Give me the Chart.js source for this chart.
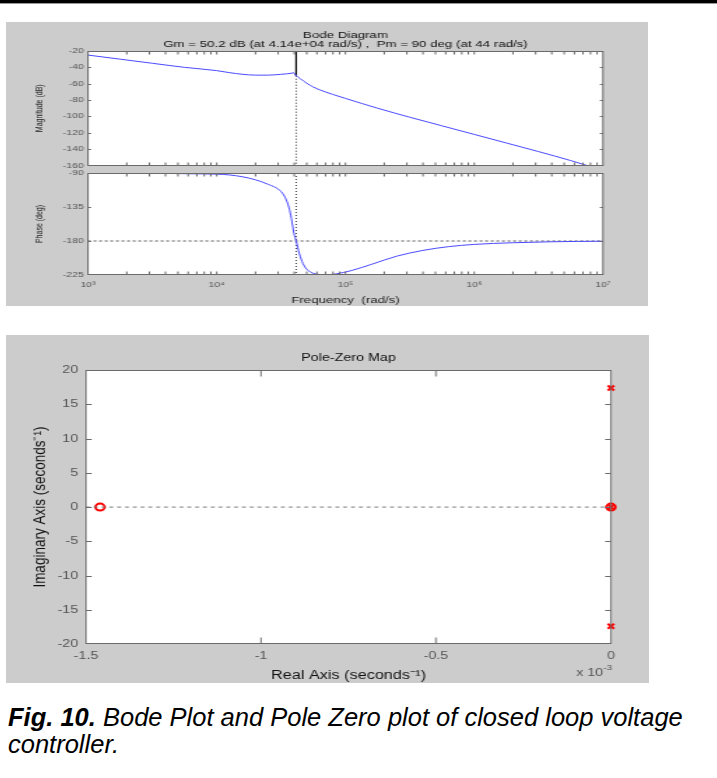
<!DOCTYPE html>
<html>
<head>
<meta charset="utf-8">
<script src="https://cdn.jsdelivr.net/npm/chart.js@4"></script>
<style>
  body { margin: 0; background: #fff; width: 717px; height: 778px; position: relative; overflow: hidden; font-family: "Liberation Sans", Arial, sans-serif; }
  .rule { position: absolute; left: 0; top: 0; width: 717px; height: 3px; background: #000; border-bottom: 1px solid #999; }
  .panel { position: absolute; background: #cccccc; }
  canvas { position: absolute; }
  .caption { position: absolute; left: 8px; top: 704px; width: 709px; font-style: italic; font-size: 25.5px; line-height: 27px; color: #000; white-space: nowrap; }
</style>
</head>
<body>
<div class="rule"></div>
<div class="panel" style="left:6px;top:22px;width:642px;height:284px"></div>
<!-- the original figure is stretched sideways, so the canvases are drawn narrow and widened by css -->
<canvas id="mag" width="459" height="146" style="left:6px;top:22px;width:642px;height:146px"></canvas>
<canvas id="phase" width="459" height="138" style="left:6px;top:168px;width:642px;height:138px"></canvas>
<div class="panel" style="left:6px;top:335px;width:643px;height:348px"></div>
<canvas id="pz" width="495" height="348" style="left:6px;top:335px;width:643px;height:348px"></canvas>
<div class="caption"><b>Fig. 10.</b> Bode Plot and Pole Zero plot of closed loop voltage<br>controller.</div>

<script>
// bode magnitude (rad/s, dB)
const magFreq = [1e3, 1.78e3, 3.16e3, 5.62e3, 1e4, 1.26e4, 1.585e4, 2e4, 2.51e4, 3.16e4, 3.8e4, 3.94e4, 4.14e4, 4.47e4, 5.01e4, 5.62e4, 6.31e4, 7.94e4, 1e5, 1.78e5, 3.16e5, 5.62e5, 1e6, 1.78e6, 3.16e6, 5.62e6, 7.5e6];
const magDb   = [-25, -30, -35, -40, -44, -46.5, -48.5, -49.5, -49.5, -48.5, -47.2, -46.6, -50.2, -54, -59.5, -64, -67.5, -73, -78, -90, -101, -111.5, -122, -132.5, -143, -154, -160];

// bode phase (rad/s, deg)
const phaseFreq = [1e3, 3.16e3, 6.31e3, 1e4, 1.26e4, 1.585e4, 2e4, 2.51e4, 3.09e4, 3.39e4, 3.63e4, 3.8e4, 3.98e4, 4.14e4, 4.37e4, 4.68e4, 5.13e4, 6.03e4, 7.08e4, 8.5e4, 1.12e5, 1.585e5, 2.51e5, 3.98e5, 6.31e5, 1e6, 2e6, 4e6, 1e7];
const phaseDeg  = [-90, -90.3, -91, -91.5, -92.6, -95, -99, -105, -113, -122, -135, -150, -170, -180, -196, -210, -219, -224, -224.8, -223.5, -219, -211, -200, -192.5, -187.5, -184.5, -182.3, -181, -180.3];

// margins from the title
const gmFreq = 4.14e4;
const gmMag = -50.2;

// x-axis ticks (decades + minor)
const decades = [1e3, 1e4, 1e5, 1e6, 1e7];
const minorSteps = [2, 3, 4, 5, 6, 7, 8, 9];
const supers = { 3: '\u00b3', 4: '\u2074', 5: '\u2075', 6: '\u2076', 7: '\u2077' };

// pole-zero map (real part in units of 1e-3 s^-1)
const zeroRe = [-1.46, 0];
const zeroIm = [0, 0];
const poleRe = [0, 0, 0];
const poleIm = [17.4, 0, -17.4];

const FONT = '"Liberation Sans", Arial, sans-serif';
Chart.defaults.font.family = FONT;
Chart.defaults.color = '#444';

function pts(xs, ys) {
  return xs.map((x, i) => ({ x: x, y: ys[i] }));
}

function logTicks(scale) {
  const t = [];
  decades.forEach((d, i) => {
    t.push({ value: d });
    if (i < decades.length - 1) minorSteps.forEach(m => t.push({ value: d * m }));
  });
  scale.ticks = t;
}

function decadeLabel(v) {
  const e = Math.round(Math.log10(v));
  if (Math.abs(Math.pow(10, e) - v) > 1e-6 * v) return '';
  return '10' + supers[e];
}

// fixed axis sizes so the plot boxes land where the figure has them
function fixW(w) {
  return s => { s.width = w; s.paddingTop = 0; s.paddingBottom = 0; };
}
function fixH(h) {
  return s => { s.height = h; s.paddingLeft = 0; s.paddingRight = 0; };
}

// white axes area + boxed axes with inward ticks (matlab style)
const boxAxes = {
  id: 'boxAxes',
  beforeDraw(chart) {
    const a = chart.chartArea, ctx = chart.ctx;
    ctx.save();
    ctx.fillStyle = '#fff';
    ctx.fillRect(a.left, a.top, a.right - a.left, a.bottom - a.top);
    ctx.restore();
  },
  afterDraw(chart, args, opts) {
    const a = chart.chartArea, ctx = chart.ctx;
    const len = opts.len || 4;
    const L = a.left, R = a.right;
    const T = Math.round(a.top) + 0.5, B = Math.round(a.bottom) - 0.5;
    ctx.save();
    ctx.strokeStyle = '#6a6a6a';
    ctx.lineWidth = 1;
    ctx.beginPath();
    const xs = chart.scales.x, ys = chart.scales.y;
    xs.ticks.forEach(t => {
      const p = xs.getPixelForValue(t.value);
      if (p <= L + 1 || p >= R - 1) return;
      ctx.moveTo(p, T); ctx.lineTo(p, T + len);
      ctx.moveTo(p, B); ctx.lineTo(p, B - len);
    });
    ys.ticks.forEach(t => {
      const p = Math.round(ys.getPixelForValue(t.value)) + 0.5;
      if (p <= T + 1 || p >= B - 1) return;
      ctx.moveTo(L, p); ctx.lineTo(L + len / 1.35, p);
      ctx.moveTo(R, p); ctx.lineTo(R - len / 1.35, p);
    });
    ctx.stroke();
    ctx.strokeRect(L, T, R - L, B - T);
    if (opts.note) {
      ctx.fillStyle = '#555';
      ctx.font = '11px ' + FONT;
      ctx.textAlign = 'right';
      ctx.fillText('x 10', a.right - 6, a.bottom + 32);
      ctx.font = '8px ' + FONT;
      ctx.textAlign = 'left';
      ctx.fillText('-3', a.right - 6, a.bottom + 26);
    }
    ctx.restore();
  }
};
Chart.register(boxAxes);

const blue = '#4a4aff';

// magnitude
new Chart(document.getElementById('mag'), {
  type: 'line',
  data: {
    datasets: [
      { data: pts(magFreq, magDb), borderColor: blue, borderWidth: 1, pointRadius: 0, cubicInterpolationMode: 'monotone' },
      { data: pts([gmFreq, gmFreq], [-20, gmMag]), borderColor: '#000', borderWidth: 1, pointRadius: 0 },
      { data: pts([gmFreq, gmFreq], [gmMag, -160]), borderColor: '#000', borderWidth: 0.8, borderDash: [1, 2], pointRadius: 0 }
    ]
  },
  options: {
    responsive: false,
    animation: false,
    layout: { padding: { left: 0, right: 32.2, top: 0, bottom: 0 } },
    plugins: {
      legend: { display: false },
      tooltip: { enabled: false },
      title: {
        display: true,
        fullSize: false,
        text: ['Bode Diagram', 'Gm = 50.2 dB (at 4.14e+04 rad/s) ,  Pm = 90 deg (at 44 rad/s)'],
        color: '#111',
        font: { size: 9.5, weight: 'normal', lineHeight: 0.95 },
        padding: { top: 8.5, bottom: 2.45 }
      },
      boxAxes: { len: 3 }
    },
    scales: {
      x: {
        type: 'logarithmic', min: 1e3, max: 1e7,
        afterBuildTicks: logTicks,
        ticks: { display: false },
        grid: { display: false }, border: { display: false },
        afterFit: fixH(2.5)
      },
      y: {
        min: -160, max: -20,
        ticks: { stepSize: 20, font: { size: 7.5 }, padding: 3, color: '#555' },
        grid: { display: false, drawTicks: false }, border: { display: false },
        title: { display: true, text: 'Magnitude (dB)', color: '#222', font: { size: 7 }, padding: { top: 20, bottom: 0 } },
        afterFit: fixW(58.6)
      }
    }
  }
});

// phase
new Chart(document.getElementById('phase'), {
  type: 'line',
  data: {
    datasets: [
      { data: pts(phaseFreq, phaseDeg), borderColor: blue, borderWidth: 1, pointRadius: 0, cubicInterpolationMode: 'monotone' },
      { data: pts([1e3, 1e7], [-180, -180]), borderColor: '#555', borderWidth: 1, borderDash: [2, 2], pointRadius: 0 },
      { data: pts([gmFreq, gmFreq], [-90, -225]), borderColor: '#000', borderWidth: 0.8, borderDash: [1, 2], pointRadius: 0 }
    ]
  },
  options: {
    responsive: false,
    animation: false,
    layout: { padding: { left: 0, right: 32.2, top: 5, bottom: 0 } },
    plugins: {
      legend: { display: false },
      tooltip: { enabled: false },
      boxAxes: { len: 3 }
    },
    scales: {
      x: {
        type: 'logarithmic', min: 1e3, max: 1e7,
        afterBuildTicks: logTicks,
        ticks: { autoSkip: false, maxRotation: 0, font: { size: 7.5 }, padding: 5, color: '#555', callback: v => decadeLabel(v) },
        grid: { display: false, drawTicks: false }, border: { display: false },
        title: { display: true, text: 'Frequency  (rad/s)', color: '#222', font: { size: 9.5 }, padding: { top: 4.3, bottom: 0 } },
        afterFit: fixH(31)
      },
      y: {
        min: -225, max: -90,
        ticks: { stepSize: 45, font: { size: 7.5 }, padding: 3, color: '#555' },
        grid: { display: false, drawTicks: false }, border: { display: false },
        title: { display: true, text: 'Phase (deg)', color: '#222', font: { size: 7 }, padding: { top: 20, bottom: 0 } },
        afterFit: fixW(58.6)
      }
    }
  }
});

// pole-zero map
new Chart(document.getElementById('pz'), {
  type: 'scatter',
  data: {
    datasets: [
      { type: 'line', data: pts([-1.5, 0], [0, 0]), borderColor: '#777', borderWidth: 1, borderDash: [3, 3], pointRadius: 0 },
      { data: pts(zeroRe, zeroIm), pointStyle: 'circle', pointRadius: 3.5, borderColor: '#ff0000', borderWidth: 2, backgroundColor: 'rgba(0,0,0,0)' },
      { data: pts(poleRe, poleIm), pointStyle: 'crossRot', pointRadius: 3.5, borderColor: '#ff0000', borderWidth: 2 }
    ]
  },
  options: {
    responsive: false,
    animation: false,
    clip: false,
    layout: { padding: { left: 0, right: 29.3, top: 0, bottom: 0 } },
    plugins: {
      legend: { display: false },
      tooltip: { enabled: false },
      title: {
        display: true,
        fullSize: false,
        text: 'Pole-Zero Map',
        color: '#111',
        font: { size: 11, weight: 'normal', lineHeight: 1.2 },
        padding: { top: 16, bottom: 6 }
      },
      boxAxes: { len: 6, note: true }
    },
    scales: {
      x: {
        type: 'linear', min: -1.5, max: 0,
        ticks: { stepSize: 0.5, font: { size: 11 }, padding: 5, color: '#555', callback: v => String(Number(v.toFixed(1))) },
        grid: { display: false, drawTicks: false }, border: { display: false },
        title: { display: true, text: 'Real Axis (seconds\u207b\u00b9)', color: '#111', font: { size: 12.5 }, padding: { top: 2.5, bottom: 0 } },
        afterFit: fixH(39)
      },
      y: {
        min: -20, max: 20,
        ticks: { stepSize: 5, font: { size: 11 }, padding: 6, color: '#555' },
        grid: { display: false, drawTicks: false }, border: { display: false },
        title: { display: true, text: 'Imaginary Axis (seconds\u207b\u00b9)', color: '#111', font: { size: 13.5 }, padding: { top: 18, bottom: 0 } },
        afterFit: fixW(61.6)
      }
    }
  }
});
</script>
</body>
</html>
